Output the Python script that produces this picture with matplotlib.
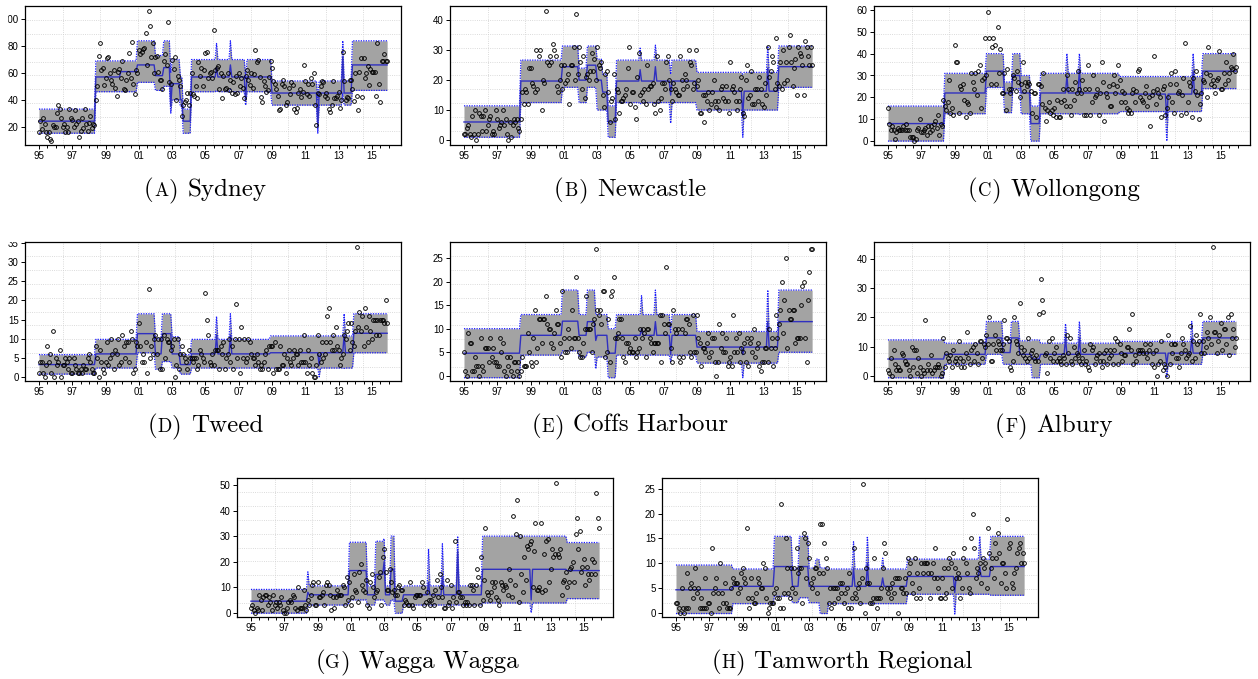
import numpy as np
import matplotlib
matplotlib.use("Agg")
import matplotlib.pyplot as plt
from matplotlib.patches import Rectangle

plt.rcParams["font.family"] = ["Liberation Sans", "DejaVu Sans"]

W, H = 1258, 679
months = 1995 + np.arange(252) / 12

# ---------------- data (monthly counts, one row per year 1995..2015) ----------------
sydney_counts = [
    16, 24, 18, 26, 22, 16, 12, 16, 11, 9, 21, 20,
    20, 30, 36, 33, 26, 20, 22, 16, 20, 16, 33, 26,
    25, 20, 32, 22, 24, 12, 17, 26, 19, 33, 22, 17,
    23, 28, 19, 22, 21, 40, 50, 73, 82, 62, 64, 51,
    56, 71, 72, 60, 55, 52, 62, 49, 43, 61, 63, 56,
    69, 48, 47, 55, 60, 75, 56, 83, 52, 44, 62, 60,
    77, 74, 76, 78, 79, 90, 66, 106, 95, 72, 82, 60,
    72, 73, 61, 55, 55, 48, 69, 74, 66, 98, 53, 52,
    70, 63, 72, 40, 58, 55, 50, 28, 36, 38, 40, 45,
    36, 45, 60, 44, 43, 50, 41, 68, 58, 64, 50, 62,
    75, 76, 56, 60, 61, 56, 92, 62, 64, 65, 48, 60,
    41, 58, 48, 49, 60, 47, 55, 45, 53, 44, 58, 45,
    60, 50, 56, 49, 41, 58, 62, 55, 51, 60, 49, 59,
    77, 68, 70, 57, 42, 38, 54, 50, 46, 47, 57, 69,
    64, 54, 52, 48, 43, 32, 33, 52, 55, 50, 36, 38,
    49, 44, 53, 51, 33, 31, 34, 45, 48, 42, 46, 66,
    54, 44, 52, 43, 56, 52, 60, 36, 21, 45, 44, 50,
    54, 53, 43, 45, 41, 33, 31, 36, 54, 41, 41, 43,
    46, 34, 40, 76, 54, 40, 42, 41, 55, 55, 48, 39,
    60, 43, 32, 61, 71, 42, 71, 56, 60, 65, 51, 63,
    61, 61, 61, 43, 82, 52, 38, 69, 69, 74, 69, 69,
]
sydney_breaks = [1995.0, 1998.4, 1999.9, 2000.9, 2002.0, 2002.5, 2003.0, 2003.45, 2003.6, 2004.15, 2008.95, 2013.8]
sydney_mean = [24, 57, 61, 66, 58, 64, 52, 40, 24, 57, 45, 66]
sydney_lo = [15, 46, 46, 53, 47, 50, 40, 35, 15, 46, 36, 47]
sydney_hi = [33, 69, 69, 84, 73, 84, 70, 57, 33, 70, 54, 84]
sydney_spikes = [(2002.92, 35, 30, 60), (2005.67, 64, 47, 82), (2006.5, 66, 48, 84),
                 (2007.42, 40, 36, 56), (2011.75, 21, 15, 40), (2013.25, 72, 45, 84)]

newcastle_counts = [
    2, 2, 4, 5, 2, 1, 8, 2, 10, 0, 2, 9,
    8, 3, 8, 10, 3, 5, 7, 8, 2, 3, 2, 10,
    7, 4, 5, 6, 10, 5, 7, 2, 0, 6, 1, 5,
    7, 6, 7, 4, 3, 7, 16, 12, 17, 16, 12, 24,
    24, 19, 18, 16, 30, 17, 28, 30, 10, 20, 19, 43,
    26, 25, 28, 26, 32, 30, 28, 18, 16, 20, 25, 17,
    25, 19, 20, 22, 12, 25, 25, 31, 20, 42, 22, 31,
    26, 17, 28, 14, 21, 22, 20, 23, 29, 23, 27, 20,
    31, 25, 24, 26, 15, 11, 22, 23, 16, 6, 13, 14,
    22, 7, 17, 16, 9, 13, 13, 14, 15, 17, 24, 31,
    12, 16, 16, 11, 7, 21, 29, 15, 16, 13, 17, 12,
    25, 17, 18, 18, 19, 12, 9, 28, 13, 10, 14, 19,
    19, 17, 26, 28, 20, 17, 13, 19, 17, 16, 15, 15,
    28, 20, 17, 22, 20, 18, 30, 26, 25, 17, 19, 30,
    18, 20, 9, 9, 15, 6, 15, 13, 16, 10, 12, 16,
    20, 13, 11, 13, 10, 17, 18, 14, 13, 18, 13, 9,
    26, 17, 18, 16, 13, 10, 13, 17, 21, 9, 8, 20,
    25, 14, 15, 23, 12, 12, 17, 17, 13, 21, 17, 12,
    11, 19, 15, 31, 21, 23, 28, 26, 17, 34, 19, 18,
    26, 17, 30, 19, 26, 20, 31, 35, 26, 18, 24, 27,
    15, 31, 29, 28, 25, 15, 33, 31, 28, 25, 31, 25,
]
newcastle_breaks = [1995.0, 1998.37, 2000.9, 2001.9, 2002.4, 2002.95, 2003.3, 2003.6, 2004.1, 2008.95, 2013.85]
newcastle_mean = [6, 19.7, 24.5, 20, 25, 20, 16, 6, 19.7, 16.3, 24.5]
newcastle_lo = [0.9, 12.5, 17.6, 12.5, 17.6, 10, 10, 0.9, 12.5, 10, 17.6]
newcastle_hi = [11.4, 26.7, 31.4, 24, 31.4, 27, 22, 11.4, 26.7, 22.6, 31.4]
newcastle_spikes = [(2005.6, 23.5, 12, 30.7), (2006.5, 24.5, 12, 31.7), (2007.4, 15, 5.6, 22),
                    (2011.75, 8, 0.9, 22), (2013.25, 24, 10, 31.4)]

wollongong_counts = [
    15, 8, 5, 7, 5, 1, 4, 6, 5, 5, 5, 7,
    5, 8, 5, 5, 2, 2, 2, 0, 1, 5, 6, 10,
    4, 4, 5, 6, 3, 7, 4, 7, 5, 8, 9, 6,
    12, 3, 8, 7, 19, 16, 14, 18, 28, 13, 15, 12,
    44, 36, 36, 13, 25, 24, 26, 19, 11, 18, 17, 13,
    31, 27, 24, 31, 21, 32, 35, 15, 28, 29, 47, 30,
    59, 47, 26, 43, 47, 44, 26, 52, 31, 42, 22, 22,
    31, 14, 33, 24, 22, 24, 30, 29, 23, 32, 27, 20,
    26, 36, 23, 27, 25, 27, 26, 23, 13, 22, 22, 11,
    26, 26, 25, 17, 31, 15, 9, 14, 18, 13, 14, 12,
    15, 11, 19, 11, 11, 18, 24, 19, 16, 30, 24, 16,
    12, 24, 19, 27, 22, 32, 24, 22, 28, 12, 24, 12,
    35, 24, 12, 18, 30, 20, 21, 24, 12, 22, 36, 27,
    9, 22, 20, 25, 16, 16, 26, 30, 22, 25, 35, 28,
    18, 23, 22, 18, 15, 13, 14, 13, 22, 24, 18, 23,
    32, 33, 20, 19, 18, 22, 25, 16, 20, 7, 21, 23,
    39, 17, 24, 22, 20, 11, 24, 25, 12, 15, 20, 26,
    31, 18, 13, 32, 26, 22, 23, 12, 21, 29, 45, 13,
    18, 27, 25, 11, 29, 23, 32, 21, 10, 17, 22, 28,
    27, 31, 20, 43, 30, 26, 28, 25, 22, 28, 29, 41,
    24, 24, 31, 26, 36, 28, 31, 34, 33, 40, 32, 34,
]
wollongong_breaks = [1995.0, 1998.38, 2000.9, 2001.95, 2002.45, 2002.95, 2003.55, 2004.1, 2008.9, 2013.9]
wollongong_mean = [8, 22, 32, 22, 30, 22, 8, 22, 21.5, 32]
wollongong_lo = [0, 12.5, 24.5, 13, 24, 12.5, 0, 12.5, 13.5, 24]
wollongong_hi = [16, 31, 40, 27, 40, 30, 16, 31, 29.5, 40]
wollongong_spikes = [(2005.72, 30, 12.5, 40), (2006.5, 33, 12, 40), (2011.75, 10, 0, 29.5),
                     (2013.3, 32, 13.5, 40)]

tweed_counts = [
    1, 4, 4, 1, 0, 3, 8, 4, 6, 1, 12, 0,
    5, 3, 4, 7, 0, 3, 3, 5, 4, 2, 5, 1,
    1, 5, 3, 2, 1, 1, 2, 1, 3, 2, 2, 5,
    6, 4, 2, 1, 1, 8, 5, 0, 7, 4, 2, 1,
    4, 9, 3, 5, 10, 6, 2, 7, 6, 10, 3, 4,
    11, 8, 5, 9, 9, 4, 12, 10, 1, 2, 9, 8,
    14, 8, 4, 6, 4, 9, 1, 23, 5, 8, 6, 10,
    11, 6, 10, 2, 10, 2, 11, 5, 10, 9, 9, 7,
    8, 10, 0, 3, 10, 2, 6, 8, 6, 5, 4, 2,
    7, 5, 5, 4, 5, 5, 2, 3, 7, 6, 5, 4,
    22, 15, 11, 4, 3, 6, 3, 7, 7, 7, 2, 8,
    6, 9, 2, 5, 6, 10, 4, 8, 2, 10, 19, 5,
    10, 1, 13, 5, 10, 4, 5, 10, 9, 6, 5, 5,
    3, 6, 4, 2, 3, 2, 4, 6, 7, 2, 8, 8,
    8, 1, 9, 2, 2, 2, 8, 3, 3, 6, 1, 5,
    7, 4, 3, 5, 7, 6, 6, 3, 7, 4, 4, 11,
    4, 1, 7, 3, 5, 1, 0, 0, 3, 11, 6, 4,
    9, 5, 6, 9, 16, 18, 9, 7, 11, 7, 13, 8,
    7, 3, 5, 6, 11, 10, 12, 14, 7, 14, 9, 8,
    12, 34, 13, 17, 12, 16, 8, 18, 13, 9, 16, 12,
    10, 15, 15, 11, 15, 11, 15, 15, 15, 14, 20, 14,
]
tweed_breaks = [1995.0, 1998.4, 2000.9, 2001.95, 2002.4, 2002.95, 2003.5, 2004.1, 2008.9, 2013.85]
tweed_mean = [3.2, 6, 11.3, 6, 11.3, 6, 3.2, 6, 6.3, 11.4]
tweed_lo = [0.7, 2.3, 6.3, 2, 4, 2.3, 0.7, 2.3, 2.3, 6.3]
tweed_hi = [5.8, 9.8, 16.5, 10, 16.5, 10.5, 5.8, 9.8, 10.7, 16.5]
tweed_spikes = [(2005.65, 11, 2.3, 15.8), (2006.5, 11, 2.3, 16.5), (2011.8, 3, 0, 10.7),
                (2013.3, 11, 2.2, 16.5)]

coffs_counts = [
    5, 1, 0, 9, 7, 7, 1, 1, 4, 2, 2, 0,
    8, 2, 1, 6, 6, 6, 3, 8, 4, 6, 3, 3,
    2, 2, 8, 5, 7, 1, 0, 4, 2, 4, 1, 0,
    3, 3, 1, 3, 0, 1, 4, 2, 2, 2, 9, 5,
    3, 2, 8, 14, 3, 6, 12, 12, 7, 12, 12, 17,
    11, 10, 10, 7, 6, 9, 14, 11, 11, 7, 4, 18,
    8, 5, 5, 10, 8, 6, 14, 8, 8, 21, 8, 5,
    4, 4, 7, 10, 17, 10, 10, 10, 5, 11, 12, 27,
    14, 13, 14, 11, 18, 18, 4, 5, 12, 3, 17, 18,
    21, 8, 8, 9, 12, 12, 8, 4, 3, 7, 7, 5,
    6, 5, 5, 8, 4, 5, 6, 10, 8, 10, 9, 4,
    10, 10, 8, 7, 5, 7, 7, 7, 7, 13, 3, 13,
    11, 9, 23, 11, 11, 6, 3, 14, 10, 9, 10, 4,
    3, 10, 4, 9, 12, 12, 11, 5, 4, 13, 5, 5,
    13, 8, 7, 2, 6, 6, 5, 7, 9, 4, 5, 8,
    8, 3, 0, 3, 11, 6, 9, 5, 5, 8, 2, 3,
    4, 2, 13, 5, 8, 5, 9, 3, 6, 5, 7, 3,
    8, 2, 7, 8, 5, 10, 4, 6, 7, 2, 1, 3,
    3, 6, 6, 3, 10, 6, 8, 2, 6, 13, 8, 11,
    14, 20, 9, 16, 25, 6, 14, 12, 12, 14, 14, 7,
    8, 8, 8, 15, 19, 20, 8, 3, 16, 22, 27, 27,
]
coffs_breaks = [1995.0, 1998.37, 2000.9, 2001.9, 2002.4, 2002.9, 2003.6, 2004.1, 2008.95, 2013.85]
coffs_mean = [4.8, 8.6, 11.6, 8.6, 11.5, 8.6, 4.8, 8.6, 6.1, 11.5]
coffs_lo = [-0.4, 4.4, 5.3, 4, 5, 4, -0.4, 4.4, 2.7, 5]
coffs_hi = [10, 13, 18.2, 13, 18.2, 13, 10, 13, 9.4, 18.2]
coffs_spikes = [(2002.95, 7.5, 1.5, 13), (2005.65, 10, 4.4, 17), (2006.5, 11.5, 4.4, 18.2),
                (2007.4, 4.5, 3, 9), (2011.75, 4.5, -0.4, 9.4), (2013.25, 11.5, 2.7, 18.2)]

albury_counts = [
    2, 1, 6, 0, 9, 4, 2, 3, 2, 2, 8, 7,
    5, 4, 4, 2, 0, 10, 3, 9, 9, 1, 6, 3,
    0, 2, 1, 19, 2, 4, 2, 7, 1, 2, 3, 3,
    4, 3, 0, 1, 13, 3, 8, 6, 5, 7, 3, 9,
    5, 6, 4, 12, 6, 3, 5, 3, 8, 15, 6, 4,
    9, 10, 5, 11, 8, 4, 12, 12, 6, 11, 10, 14,
    11, 20, 5, 5, 11, 14, 9, 12, 11, 9, 9, 11,
    19, 13, 13, 12, 3, 2, 5, 20, 12, 11, 8, 25,
    10, 7, 9, 6, 5, 13, 6, 8, 9, 6, 5, 7,
    5, 21, 33, 26, 22, 7, 8, 1, 12, 6, 13, 5,
    8, 10, 5, 6, 5, 4, 7, 6, 4, 14, 8, 13,
    5, 4, 10, 6, 8, 7, 5, 4, 6, 9, 4, 5,
    3, 2, 11, 9, 10, 4, 6, 7, 8, 5, 3, 5,
    8, 9, 4, 6, 9, 7, 4, 9, 13, 12, 4, 11,
    8, 5, 7, 7, 10, 10, 16, 9, 21, 4, 7, 5,
    9, 8, 9, 9, 8, 11, 8, 6, 9, 11, 4, 8,
    3, 9, 0, 4, 5, 12, 2, 4, 3, 0, 14, 4,
    11, 8, 11, 11, 6, 6, 3, 8, 13, 11, 9, 6,
    7, 8, 17, 5, 12, 6, 14, 11, 12, 21, 8, 12,
    8, 10, 15, 13, 20, 11, 44, 15, 15, 8, 12, 14,
    18, 9, 16, 16, 11, 20, 7, 21, 13, 16, 10, 13,
]
albury_breaks = [1995.0, 1998.37, 2000.87, 2001.9, 2002.4, 2002.9, 2003.6, 2004.1, 2008.85, 2013.9]
albury_mean = [5.8, 7.4, 13, 8, 13, 7.4, 5.8, 7.4, 7.8, 13]
albury_lo = [-0.6, 4, 7.4, 4, 4, 4, -0.6, 4, 4, 7.4]
albury_hi = [12.3, 11.2, 18.6, 11.2, 18.6, 12, 12.3, 11.2, 11.8, 18.6]
albury_spikes = [(2005.65, 13, 4, 17.8), (2006.5, 13, 4, 18.6), (2011.75, 4, -0.5, 11.8),
                 (2013.25, 13, 4, 18.6)]

wagga_counts = [
    2, 3, 1, 0, 2, 1, 7, 5, 1, 6, 7, 7,
    3, 6, 4, 1, 7, 3, 4, 2, 4, 3, 6, 1,
    0, 0, 2, 4, 5, 4, 7, 6, 2, 1, 10, 2,
    2, 2, 9, 3, 1, 5, 3, 7, 11, 12, 3, 3,
    12, 6, 6, 7, 8, 3, 11, 12, 11, 7, 1, 6,
    2, 6, 9, 7, 7, 7, 11, 10, 3, 14, 5, 12,
    3, 6, 15, 9, 8, 4, 16, 19, 11, 9, 8, 13,
    3, 2, 12, 15, 10, 6, 8, 9, 14, 16, 3, 22,
    25, 16, 9, 9, 17, 12, 8, 9, 7, 7, 10, 11,
    9, 9, 3, 5, 4, 3, 3, 12, 3, 2, 6, 7,
    7, 7, 7, 12, 10, 3, 4, 8, 5, 3, 5, 7,
    3, 9, 13, 6, 15, 10, 6, 2, 2, 13, 3, 4,
    11, 2, 6, 28, 4, 8, 8, 6, 6, 3, 4, 3,
    4, 3, 11, 11, 9, 3, 11, 17, 14, 3, 22, 5,
    13, 33, 8, 7, 5, 8, 12, 10, 12, 6, 5, 3,
    12, 11, 9, 11, 10, 7, 17, 13, 6, 38, 11, 31,
    44, 4, 30, 15, 8, 22, 13, 26, 25, 27, 28, 10,
    24, 35, 9, 9, 10, 35, 8, 23, 9, 28, 29, 12,
    17, 25, 22, 23, 51, 23, 22, 25, 7, 12, 13, 16,
    10, 12, 17, 18, 20, 12, 31, 37, 25, 32, 16, 18,
    21, 11, 18, 15, 13, 15, 21, 20, 15, 47, 37, 33,
]
wagga_breaks = [1995.0, 1998.35, 2000.9, 2001.95, 2002.45, 2002.95, 2003.35, 2003.6, 2004.1, 2008.9, 2014.0]
wagga_mean = [4.5, 7, 16.5, 7, 15, 7, 17, 4.5, 7, 17, 16.5]
wagga_lo = [-0.2, 3, 5, 3, 5, 3, 5, -0.2, 3, 3.8, 5.5]
wagga_hi = [9.1, 10.5, 27.6, 10.5, 28, 10.5, 30, 9.1, 10.5, 30, 27.5]
wagga_spikes = [(1998.4, 8, 3, 16), (2003.0, 20, 5, 29), (2005.7, 12, 3, 25), (2006.5, 14, 3, 27),
                (2007.4, 24, 3, 30), (2011.85, 5, 0, 30)]

tamworth_counts = [
    2, 2, 1, 0, 5, 1, 0, 1, 8, 1, 5, 6,
    3, 5, 9, 4, 5, 1, 3, 1, 1, 7, 1, 2,
    2, 0, 13, 4, 5, 7, 4, 1, 10, 4, 2, 6,
    2, 1, 1, 1, 5, 7, 6, 6, 6, 4, 5, 8,
    9, 7, 6, 17, 3, 1, 7, 3, 2, 2, 4, 7,
    6, 5, 5, 10, 9, 3, 0, 1, 2, 2, 2, 4,
    5, 3, 3, 1, 22, 1, 4, 15, 9, 4, 3, 9,
    5, 9, 4, 13, 8, 9, 9, 2, 16, 15, 7, 14,
    11, 6, 5, 7, 9, 9, 4, 8, 18, 18, 8, 14,
    11, 9, 2, 5, 1, 5, 2, 5, 5, 3, 6, 4,
    6, 2, 4, 5, 1, 8, 1, 3, 13, 4, 3, 5,
    6, 2, 7, 26, 0, 9, 6, 6, 2, 2, 3, 11,
    3, 1, 3, 3, 5, 9, 14, 12, 5, 4, 5, 3,
    6, 4, 7, 7, 0, 7, 5, 5, 4, 7, 4, 11,
    8, 10, 6, 4, 11, 3, 8, 5, 3, 10, 8, 10,
    10, 10, 8, 3, 8, 10, 7, 13, 7, 5, 3, 3,
    7, 9, 3, 4, 9, 11, 10, 5, 12, 9, 7, 8,
    7, 3, 5, 11, 13, 10, 8, 5, 4, 15, 20, 13,
    7, 9, 8, 10, 6, 11, 9, 10, 5, 17, 12, 9,
    11, 7, 14, 11, 16, 12, 6, 10, 10, 8, 5, 19,
    13, 14, 6, 5, 8, 9, 12, 13, 14, 10, 12, 10,
]
tamworth_breaks = [1995.0, 1998.37, 2000.9, 2001.95, 2002.4, 2003.0, 2003.4, 2003.65, 2004.1, 2008.9, 2013.85]
tamworth_mean = [4.6, 5.3, 9.3, 5.3, 9.3, 5.3, 5.3, 5.3, 5.3, 7.3, 9.3]
tamworth_lo = [-0.2, 1.8, 3.3, 2, 3, 2, 2, -0.2, 1.8, 3.7, 3.5]
tamworth_hi = [9.6, 8.8, 15.4, 8.8, 15.4, 9, 10.8, 9, 8.8, 10.8, 15.4]
tamworth_spikes = [(2005.7, 9, 1.8, 14.3), (2006.5, 10, 1.8, 15.4), (2007.4, 7, 1.8, 11),
                   (2011.75, 4, -0.3, 10.8), (2013.25, 9.3, 3.7, 15.4)]

year_ticks = list(range(1995, 2016, 2))
year_labels = ["%02d" % (y % 100) for y in year_ticks]

panels = [
    ("A", "Sydney", sydney_counts, sydney_breaks, sydney_mean, sydney_lo, sydney_hi, sydney_spikes,
     (6.2, 110), [20, 40, 60, 80, 100], (25, 6, 401, 145)),
    ("B", "Newcastle", newcastle_counts, newcastle_breaks, newcastle_mean, newcastle_lo, newcastle_hi,
     newcastle_spikes, (-1.7, 44.8), [0, 10, 20, 30, 40], (450, 6, 826, 145)),
    ("C", "Wollongong", wollongong_counts, wollongong_breaks, wollongong_mean, wollongong_lo, wollongong_hi,
     wollongong_spikes, (-1.8, 61.8), [0, 10, 20, 30, 40, 50, 60], (874, 6, 1250, 145)),
    ("D", "Tweed", tweed_counts, tweed_breaks, tweed_mean, tweed_lo, tweed_hi, tweed_spikes,
     (-1.1, 35.3), [0, 5, 10, 15, 20, 25, 30, 35], (25, 242, 401, 381)),
    ("E", "Coffs Harbour", coffs_counts, coffs_breaks, coffs_mean, coffs_lo, coffs_hi, coffs_spikes,
     (-1.1, 28.4), [0, 5, 10, 15, 20, 25], (450, 242, 826, 381)),
    ("F", "Albury", albury_counts, albury_breaks, albury_mean, albury_lo, albury_hi, albury_spikes,
     (-1.7, 45.7), [0, 10, 20, 30, 40], (874, 242, 1250, 381)),
    ("G", "Wagga Wagga", wagga_counts, wagga_breaks, wagga_mean, wagga_lo, wagga_hi, wagga_spikes,
     (-1.7, 52.8), [0, 10, 20, 30, 40, 50], (237, 478, 613, 617)),
    ("H", "Tamworth Regional", tamworth_counts, tamworth_breaks, tamworth_mean, tamworth_lo, tamworth_hi,
     tamworth_spikes, (-0.9, 27.2), [0, 5, 10, 15, 20, 25], (662, 478, 1038, 617)),
]


def stepped(breaks, vals, spikes, k):
    idx = np.searchsorted(breaks, months, side="right") - 1
    out = np.asarray(vals, float)[idx]
    for s in spikes:
        out[int(round((s[0] - 1995) * 12))] = s[k]
    return out


fig = plt.figure(figsize=(W / 100, H / 100), dpi=100)
renderer = fig.canvas.get_renderer()


def caption(cx, base_y, letter, name):
    # "(A) Name" with the letter in small caps
    parts = [("(", 18, 0.5), (letter, 13.5, 0.5), (")", 18, 9), (name, 18, 0)]
    texts = [fig.text(0, 0, s, fontsize=fs, family="cmr10", va="baseline") for s, fs, g in parts]
    widths = [t.get_window_extent(renderer).width + g for t, (s, fs, g) in zip(texts, parts)]
    x = cx - sum(widths) / 2
    for t, w in zip(texts, widths):
        t.set_position((x / W, 1 - base_y / H))
        x += w


for letter, name, counts, breaks, mean, lo, hi, spikes, ylim, yticks, box in panels:
    l, t, r, b = box
    ax = fig.add_axes([l / W, 1 - b / H, (r - l) / W, (b - t) / H])
    xlim = (1994.16, 2016.75)
    ax.set_xlim(xlim)
    ax.set_ylim(ylim)

    # R-style grid: 10 equal cells
    for f in np.arange(1, 10) / 10:
        ax.axvline(xlim[0] + f * (xlim[1] - xlim[0]), color="#cfcfcf", lw=0.6, ls=":", zorder=1)
        ax.axhline(ylim[0] + f * (ylim[1] - ylim[0]), color="#cfcfcf", lw=0.6, ls=":", zorder=1)

    m = stepped(breaks, mean, spikes, 1)
    low = stepped(breaks, lo, spikes, 2)
    high = stepped(breaks, hi, spikes, 3)
    ax.fill_between(months, low, high, color="#a3a3a3", lw=0, zorder=2)
    ax.plot(months, low, color="#1a1aff", lw=0.9, ls=(0, (1, 1)), zorder=3)
    ax.plot(months, high, color="#1a1aff", lw=0.9, ls=(0, (1, 1)), zorder=3)
    ax.plot(months, m, color="#3030c0", lw=1.0, zorder=4)
    ax.plot(months, counts, "o", ms=2.7, mfc="none", mec="black", mew=0.65, zorder=5)

    ax.set_xticks(year_ticks)
    ax.set_xticklabels(year_labels)
    ax.set_xticks(np.arange(1995, 2016.1, 0.5), minor=True)
    ax.set_yticks(yticks)
    ax.set_yticklabels([str(v) for v in yticks])
    ax.tick_params(which="major", direction="out", length=3, width=0.7, labelsize=7, pad=1.5)
    ax.tick_params(which="minor", direction="out", length=2, width=0.7)
    for sp in ax.spines.values():
        sp.set_linewidth(0.9)

    cx = (l + r) / 2 - 8
    caption(cx, b + 51, letter, name)

# the source figure is cropped at a couple of tick labels
fig.add_artist(Rectangle((0, 1 - 25 / H), 7 / W, 25 / H, transform=fig.transFigure,
                         color="white", zorder=10))
fig.add_artist(Rectangle((0, 1 - 241.3 / H), 20 / W, 6 / H, transform=fig.transFigure,
                         color="white", zorder=10))

fig.savefig("out.png", dpi=100)
